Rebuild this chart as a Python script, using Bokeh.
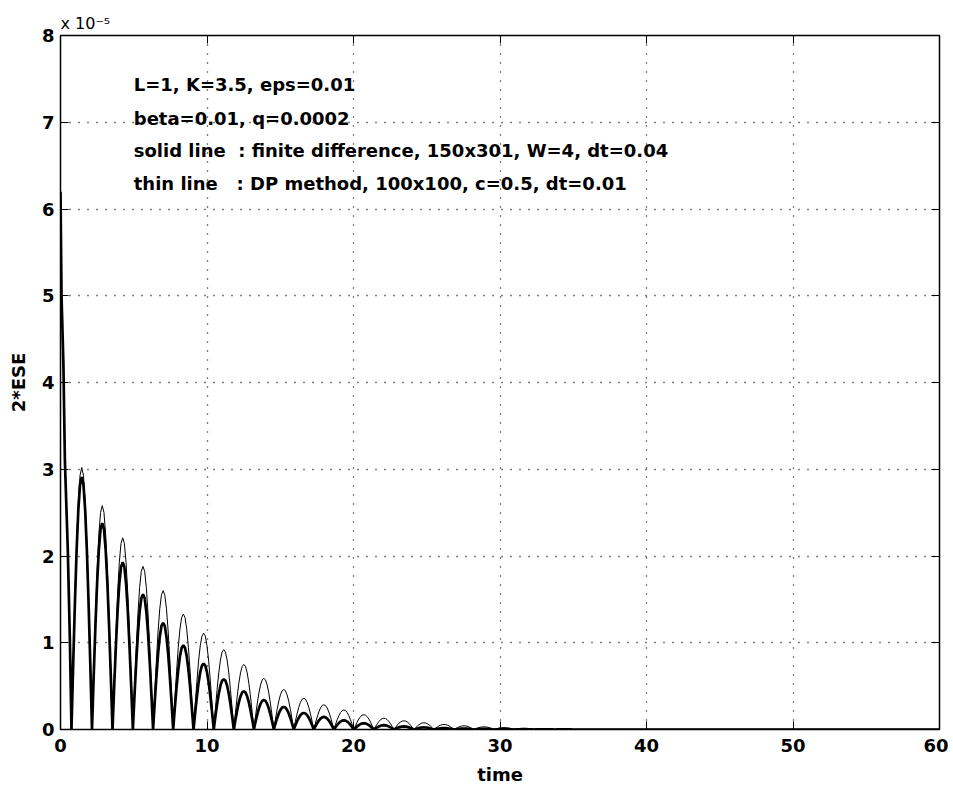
from bokeh.plotting import figure
from bokeh.models import Range1d, FixedTicker, LinearAxis, Label, CustomJSTickFormatter, Title
from bokeh.embed import file_html
from bokeh.resources import INLINE

# ---- tick labels ----
x_ticks = [0, 10, 20, 30, 40, 50, 60]
y_ticks = [0, 1, 2, 3, 4, 5, 6, 7, 8]

# ---- data (2*ESE in units of 1e-5) ----
# initial decay common to both methods
t_start = [0.0, 0.07, 0.20, 0.30, 0.50, 0.64]
v_start = [6.2, 5.0, 4.2, 3.1, 2.06, 1.03]

# times where the oscillation touches zero
t_zeros = [0.75, 2.15, 3.55, 4.94, 6.32, 7.69, 9.08, 10.46, 11.83, 13.20,
           14.56, 15.92, 17.29, 18.66, 20.02, 21.39, 22.76, 24.12, 25.49,
           26.86, 28.22, 29.59, 30.96, 32.32, 33.69, 35.06]

# peak heights of each hump: solid line (finite difference)
peak_fd = [2.91, 2.38, 1.93, 1.56, 1.23, 0.97, 0.76, 0.58, 0.44, 0.34,
           0.26, 0.19, 0.145, 0.105, 0.072, 0.05, 0.035, 0.024, 0.016,
           0.011, 0.007, 0.005, 0.003, 0.002, 0.001]

# peak heights of each hump: thin line (DP method)
peak_dp = [3.02, 2.58, 2.21, 1.88, 1.60, 1.33, 1.11, 0.92, 0.75, 0.59,
           0.46, 0.36, 0.285, 0.225, 0.17, 0.13, 0.10, 0.077, 0.058,
           0.042, 0.031, 0.022, 0.015, 0.010, 0.007]

# shape of one hump (fraction of peak)
hump_profile = [0.0, 0.26, 0.5, 0.71, 0.87, 0.97, 1.0, 0.97, 0.87, 0.71, 0.5, 0.26]

t_end = 60.0

annot_text = ["L=1, K=3.5, eps=0.01",
              "beta=0.01, q=0.0002",
              "solid line \u00a0: finite difference, 150x301, W=4, dt=0.04",
              "thin line \u00a0\u00a0: DP method, 100x100, c=0.5, dt=0.01"]
annot_x = 5.0
annot_y = [7.43, 7.04, 6.67, 6.29]


def build(peaks):
    t = list(t_start)
    v = list(v_start)
    n = len(hump_profile)
    for i, pk in enumerate(peaks):
        a, b = t_zeros[i], t_zeros[i + 1]
        for j, f in enumerate(hump_profile):
            t.append(a + (b - a) * j / n)
            v.append(pk * f)
    t.append(t_zeros[len(peaks)])
    v.append(0.0)
    t.append(t_end)
    v.append(0.0)
    return t, v


t_fd, v_fd = build(peak_fd)
t_dp, v_dp = build(peak_dp)

FONT = "DejaVu Sans"

p = figure(width=948, height=787, output_backend="svg", toolbar_location=None,
           title=None,
           x_range=Range1d(0, 60), y_range=Range1d(0, 8),
           min_border_left=60, min_border_right=9, min_border_top=35, min_border_bottom=58)
p.background_fill_color = "white"
p.border_fill_color = "white"
p.outline_line_color = "black"
p.outline_line_width = 1.5

p.line(t_fd, v_fd, line_color="black", line_width=2.7)
p.line(t_dp, v_dp, line_color="black", line_width=1.0)

for ax, ticks in ((p.xaxis[0], x_ticks), (p.yaxis[0], y_ticks)):
    ax.ticker = FixedTicker(ticks=ticks)
    ax.axis_line_color = None
    ax.major_tick_in = 8
    ax.major_tick_out = 0
    ax.minor_tick_line_color = None
    ax.major_tick_line_color = "black"
    ax.major_label_text_font = FONT
    ax.major_label_text_font_style = "bold"
    ax.major_label_text_font_size = "18px"
    ax.major_label_text_color = "black"
    ax.axis_label_text_font = FONT
    ax.axis_label_text_font_style = "bold"
    ax.axis_label_text_font_size = "18px"
    ax.axis_label_text_color = "black"

p.xaxis.axis_label = "time"
p.yaxis.axis_label = "2*ESE"
p.xaxis.major_label_standoff = 9
p.xaxis.axis_label_standoff = 9
p.yaxis.major_label_standoff = 6
p.yaxis.axis_label_standoff = 10

for g, ticks in ((p.xgrid[0], x_ticks), (p.ygrid[0], y_ticks)):
    g.ticker = FixedTicker(ticks=ticks)
    g.grid_line_color = "black"
    g.grid_line_alpha = 1.0
    g.grid_line_width = 1.3
    g.grid_line_dash = "1 8"

empty = CustomJSTickFormatter(code="return '';")
ax_r = LinearAxis(ticker=FixedTicker(ticks=y_ticks), formatter=empty,
                  axis_line_color=None, major_tick_in=8, major_tick_out=0,
                  minor_tick_line_color=None, major_label_standoff=0)
ax_t = LinearAxis(ticker=FixedTicker(ticks=x_ticks), formatter=empty,
                  axis_line_color=None, major_tick_in=8, major_tick_out=0,
                  minor_tick_line_color=None, major_label_standoff=0)
p.add_layout(ax_r, "right")
p.add_layout(ax_t, "above")

p.add_layout(Title(text="x 10\u207b\u2075", align="left", text_font=FONT,
                   text_font_size="16px", text_font_style="normal",
                   text_color="black", standoff=6, offset=0), "above")

for s, yv in zip(annot_text, annot_y):
    p.add_layout(Label(x=annot_x, y=yv, text=s, text_font=FONT,
                       text_font_style="bold", text_font_size="18px",
                       text_color="black", text_baseline="alphabetic"))

open("out.html", "w").write(file_html(p, INLINE))
